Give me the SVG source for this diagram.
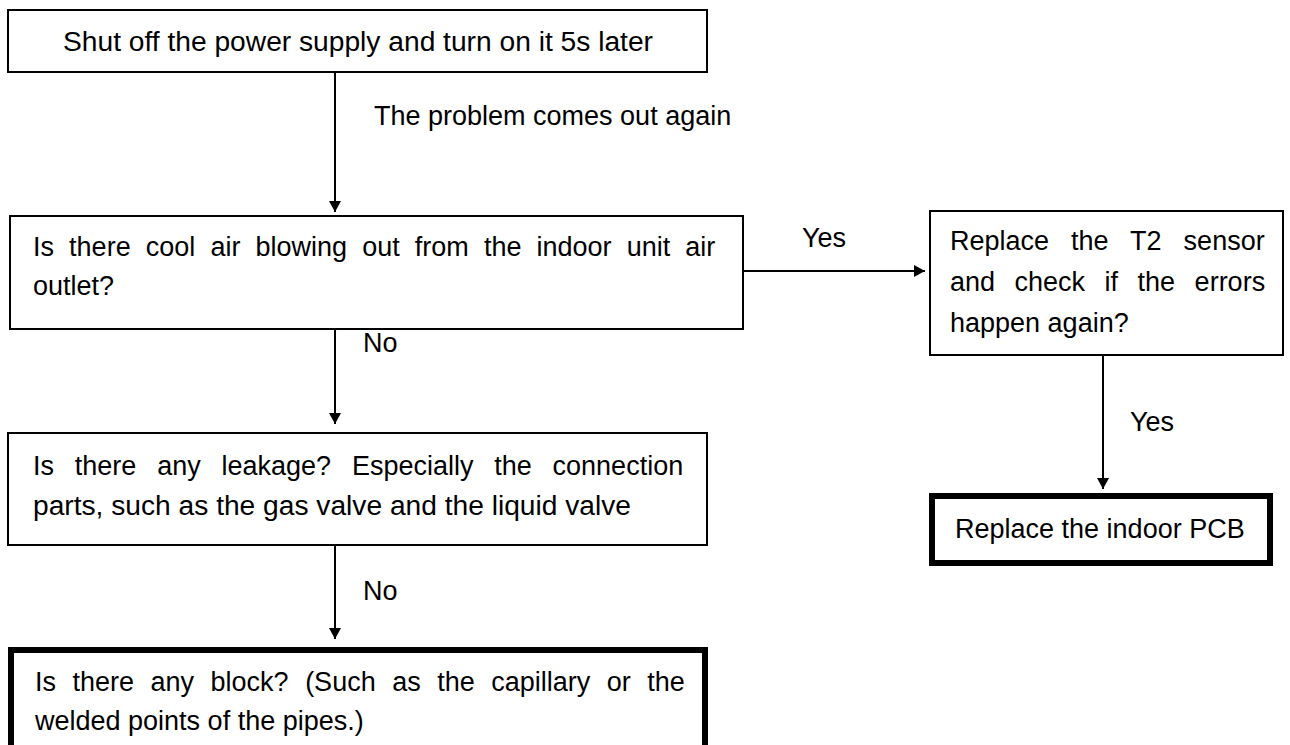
<svg xmlns="http://www.w3.org/2000/svg" width="1290" height="745" viewBox="0 0 1290 745">
<defs>
<style>
.box{fill:#fff;stroke:#000;stroke-width:2}
.thick{fill:#fff;stroke:#000;stroke-width:6}
.t{font-family:"Liberation Sans",Arial,sans-serif;font-size:27px;fill:#000}
.c{stroke:#000;stroke-width:2;fill:none}
</style>
<marker id="ah" viewBox="0 0 11 12" refX="11" refY="6" markerWidth="11" markerHeight="12" markerUnits="userSpaceOnUse" orient="auto">
<path d="M0,0 L11,6 L0,12 z" fill="#000"/>
</marker>
</defs>
<g id="connectors">
<line class="c" x1="335" y1="72" x2="335" y2="212" marker-end="url(#ah)"/>
<line class="c" x1="335" y1="329" x2="335" y2="424" marker-end="url(#ah)"/>
<line class="c" x1="335" y1="545" x2="335" y2="639" marker-end="url(#ah)"/>
<line class="c" x1="743" y1="271" x2="925" y2="271" marker-end="url(#ah)"/>
<line class="c" x1="1103" y1="355" x2="1103" y2="489" marker-end="url(#ah)"/>
<text class="t" x="374" y="125">The problem comes out again</text>
<text class="t" x="802" y="247">Yes</text>
<text class="t" x="363" y="352">No</text>
<text class="t" x="363" y="600">No</text>
<text class="t" x="1130" y="431">Yes</text>
</g>
<g id="n1">
<rect class="box" x="8" y="10" width="699" height="62"/>
<text class="t" x="358" y="51" text-anchor="middle" textLength="590" lengthAdjust="spacingAndGlyphs">Shut off the power supply and turn on it 5s later</text>
</g>
<g id="n2">
<rect class="box" x="10" y="216" width="733" height="113"/>
<text class="t" x="33" y="256" word-spacing="7.6">Is there cool air blowing out from the indoor unit air</text>
<text class="t" x="33" y="295">outlet?</text>
</g>
<g id="n3">
<rect class="box" x="930" y="211" width="353" height="144"/>
<text class="t" x="950" y="250" word-spacing="14.5">Replace the T2 sensor</text>
<text class="t" x="950" y="291" word-spacing="12">and check if the errors</text>
<text class="t" x="950" y="332">happen again?</text>
</g>
<g id="n4">
<rect class="thick" x="932" y="496" width="338" height="67"/>
<text class="t" x="955" y="538">Replace the indoor PCB</text>
</g>
<g id="n5">
<rect class="box" x="8" y="433" width="699" height="112"/>
<text class="t" x="33" y="475" word-spacing="13.3">Is there any leakage? Especially the connection</text>
<text class="t" x="33" y="515" textLength="598" lengthAdjust="spacingAndGlyphs">parts, such as the gas valve and the liquid valve</text>
</g>
<g id="n6">
<rect class="thick" x="11" y="650" width="694" height="110"/>
<text class="t" x="35" y="691" word-spacing="9">Is there any block? (Such as the capillary or the</text>
<text class="t" x="35" y="730">welded points of the pipes.)</text>
</g>
</svg>
